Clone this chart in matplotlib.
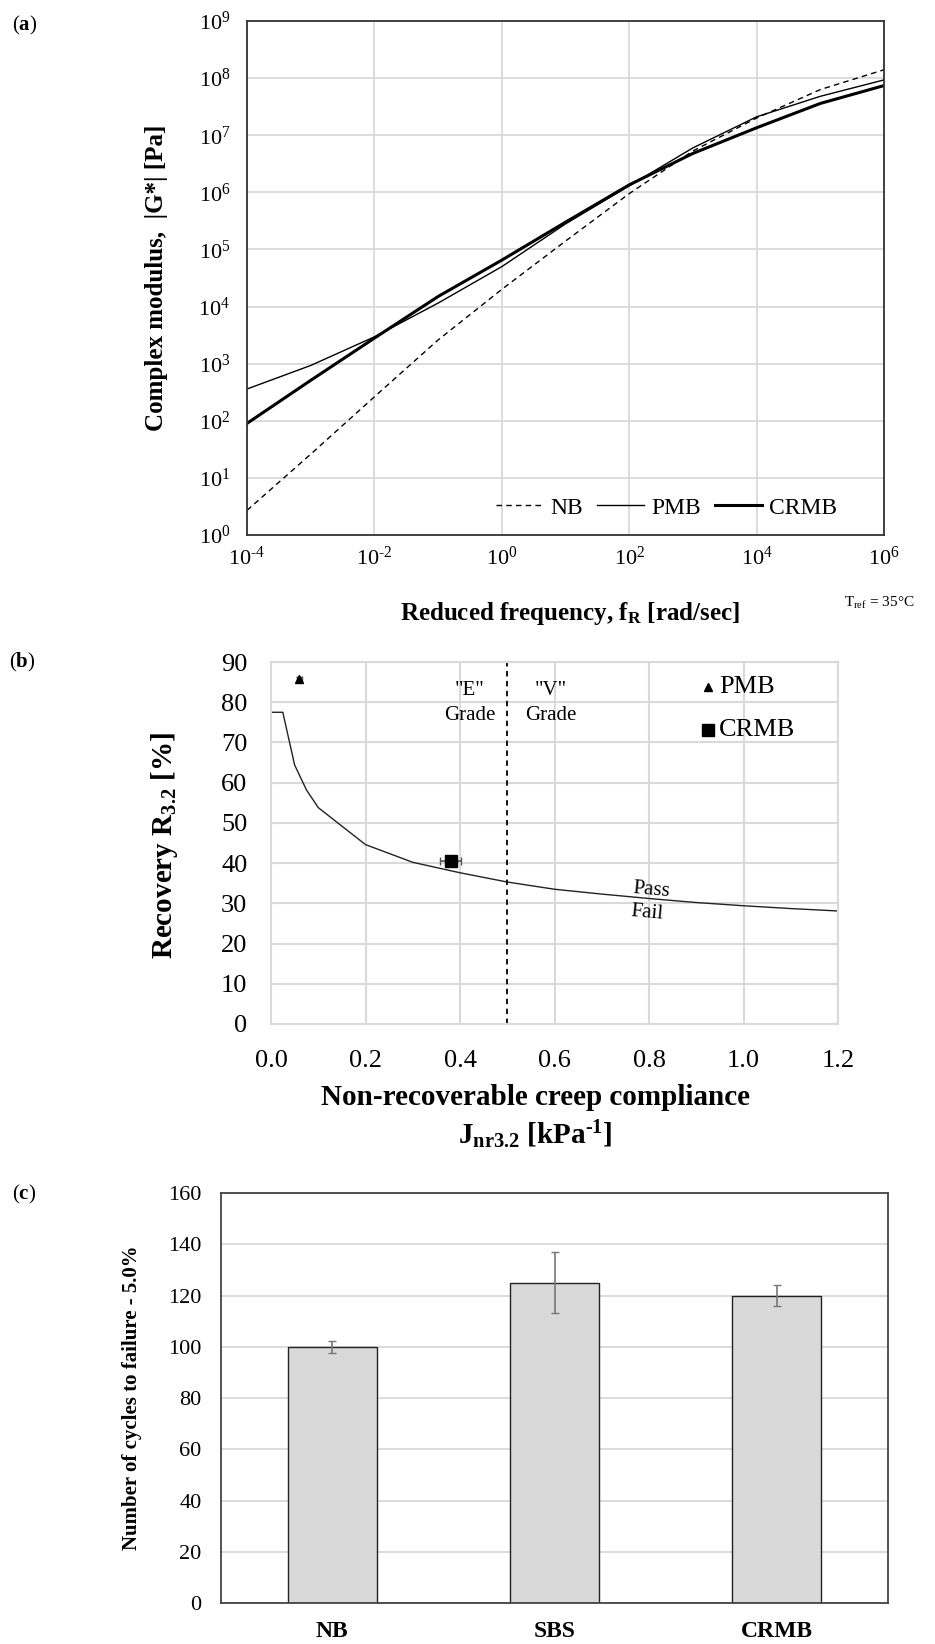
import numpy as np
import matplotlib
matplotlib.use('Agg')
import matplotlib.pyplot as plt

plt.rcParams['font.family'] = ['Liberation Serif', 'DejaVu Serif']
plt.rcParams['mathtext.fontset'] = 'custom'
plt.rcParams['mathtext.rm'] = 'Liberation Serif'
plt.rcParams['mathtext.it'] = 'Liberation Serif:italic'
plt.rcParams['mathtext.bf'] = 'Liberation Serif:bold'

# (a) master curves, Tref = 35 C
freq = [1e-4, 1e-3, 1e-2, 1e-1, 1e0, 1e1, 1e2, 1e3, 1e4, 1e5, 1e6]
g_nb = [2.7, 26, 263, 2.6e3, 2.0e4, 1.4e5, 9.5e5, 5.3e6, 2.0e7, 6.3e7, 1.4e8]
g_pmb = [360, 930, 2.95e3, 1.15e4, 5.0e4, 2.8e5, 1.3e6, 6.0e6, 2.1e7, 4.8e7, 9.3e7]
g_crmb = [90, 510, 2.8e3, 1.5e4, 6.5e4, 3.0e5, 1.35e6, 4.8e6, 1.35e7, 3.6e7, 7.4e7]

# (b) MSCR
jnr_curve = [0, 0.025, 0.05, 0.075, 0.1, 0.2, 0.3, 0.4, 0.5, 0.6, 0.7, 0.8, 0.9, 1.0, 1.1, 1.2]
r_curve = [77.5, 77.5, 64.4, 58.2, 53.8, 44.6, 40.2, 37.6, 35.3, 33.5, 32.3, 31.2, 30.2, 29.4, 28.7, 28.1]
pmb_jnr, pmb_r, pmb_xerr, pmb_yerr = 0.06, 85.7, 0.006, 0.6
crmb_jnr, crmb_r, crmb_xerr, crmb_yerr = 0.38, 40.5, 0.022, 0.8

# (c) LAS fatigue
bins = ['NB', 'SBS', 'CRMB']
cycles = [100, 125, 120]
cycles_err = [2.3, 12, 4.1]

W, H = 935, 1644
fig = plt.figure(figsize=(W / 100, H / 100), dpi=100)

def fx(px):
    return px / W

def fy(py):
    return 1 - py / H

grid_c = '#d9d9d9'

# ---------------- (a)
ax = fig.add_axes([fx(247), fy(535), fx(884) - fx(247), fy(21) - fy(535)])
ax.plot(freq, g_nb, color='black', lw=1.0, ls=(0, (4, 3)), label='NB')
ax.plot(freq, g_pmb, color='black', lw=1.0, label='PMB')
ax.plot(freq, g_crmb, color='black', lw=2.2, label='CRMB')
ax.set_xscale('log')
ax.set_yscale('log')
ax.set_xlim(1e-4, 1e6)
ax.set_ylim(1e0, 1e9)
ax.set_xticks([10.0 ** k for k in range(-4, 7, 2)])
ax.set_xticklabels([r'$10^{\text{%d}}$' % k for k in range(-4, 7, 2)])
ax.set_yticks([10.0 ** k for k in range(0, 10)])
ax.set_yticklabels([r'$10^{%d}$' % k for k in range(0, 10)])
ax.minorticks_off()
ax.grid(True, color=grid_c, lw=1.3)
ax.set_axisbelow(True)
ax.tick_params(length=0, labelsize=16)
ax.tick_params(axis='y', pad=12)
ax.tick_params(axis='x', pad=8)
for s in ax.spines.values():
    s.set_color('#333333')
    s.set_linewidth(1.3)
ax.set_ylabel('Complex modulus,  |G*| [Pa]', fontsize=18, fontweight='bold')
ax.yaxis.set_label_coords(-0.124, 0.5)
ax.set_xlabel(r'Reduced frequency, f$_{\mathbf{R}}$ [rad/sec]', fontsize=18, fontweight='bold')
ax.xaxis.set_label_coords(0.507, -0.126)
ax.legend(loc='center right', bbox_to_anchor=(0.96, 0.053), ncol=3, frameon=False,
          fontsize=17, handlelength=2.0, columnspacing=0.6, handletextpad=0.3)
fig.text(fx(844), fy(603), r'T$_{\mathrm{ref}}$ = 35°C', fontsize=11, va='center', ha='left')
fig.text(fx(12), fy(25), r'($\mathbf{a}$)', fontsize=15, va='center', ha='left')

# ---------------- (b)
ax = fig.add_axes([fx(271), fy(1024), fx(838) - fx(271), fy(662) - fy(1024)])
ax.plot(jnr_curve, r_curve, color='#222222', lw=1.0)
ax.axvline(0.5, color='black', lw=1.3, ls=(0, (3, 2.5)))
ax.errorbar(pmb_jnr, pmb_r, xerr=pmb_xerr, yerr=pmb_yerr, fmt='^', color='black',
            ms=6, ecolor='#555555', capsize=2, elinewidth=1)
ax.errorbar(crmb_jnr, crmb_r, xerr=crmb_xerr, yerr=crmb_yerr, fmt='s', color='black',
            ms=9, ecolor='#555555', capsize=3, elinewidth=1.2)
ax.set_xlim(0, 1.2)
ax.set_ylim(0, 90)
ax.set_xticks(np.arange(0, 1.21, 0.2))
ax.set_xticklabels(['%.1f' % v for v in np.arange(0, 1.21, 0.2)])
ax.set_yticks(range(0, 91, 10))
ax.grid(True, color=grid_c, lw=1.5)
ax.set_axisbelow(True)
ax.tick_params(length=0, labelsize=19)
ax.tick_params(axis='y', pad=17)
ax.tick_params(axis='x', pad=19)
for s in ax.spines.values():
    s.set_color(grid_c)
    s.set_linewidth(1.5)
ax.set_ylabel(r'Recovery R$_{\mathbf{3.2}}$ [%]', fontsize=21, fontweight='bold')
ax.yaxis.set_label_coords(-0.16, 0.494)
ax.text(0.466, -0.2017, 'Non-recoverable creep compliance', transform=ax.transAxes,
        fontsize=21, fontweight='bold', ha='center', va='center')
ax.text(0.466, -0.3066, r'J$_{\mathbf{nr3.2}}$ [kPa$^{\mathbf{\text{-}1}}$]', transform=ax.transAxes,
        fontsize=21, fontweight='bold', ha='center', va='center')
ax.text(0.421, 83, '"E"', fontsize=15, ha='center', va='center')
ax.text(0.421, 76.8, 'Grade', fontsize=15, ha='center', va='center')
ax.text(0.593, 83, '"V"', fontsize=15, ha='center', va='center')
ax.text(0.593, 76.8, 'Grade', fontsize=15, ha='center', va='center')
ax.text(0.805, 33.3, 'Pass', fontsize=15, ha='center', va='center', rotation=-5)
ax.text(0.796, 27.6, 'Fail', fontsize=15, ha='center', va='center', rotation=-5)
ax.plot([0.925], [83.8], marker='^', color='black', ms=6, ls='none')
ax.text(0.948, 83.8, 'PMB', fontsize=19, ha='left', va='center')
ax.plot([0.925], [73.1], marker='s', color='black', ms=9, ls='none')
ax.text(0.948, 73.1, 'CRMB', fontsize=19, ha='left', va='center')
fig.text(fx(9), fy(662), r'($\mathbf{b}$)', fontsize=15, va='center', ha='left')

# ---------------- (c)
ax = fig.add_axes([fx(221), fy(1603), fx(888) - fx(221), fy(1193) - fy(1603)])
xpos = np.arange(len(bins))
ax.bar(xpos, cycles, width=0.4, color='#d9d9d9', edgecolor='#222222', lw=1.0, zorder=2)
ax.errorbar(xpos, cycles, yerr=cycles_err, fmt='none', ecolor='#777777', capsize=3,
            elinewidth=1.2, zorder=3)
ax.set_xlim(-0.5, 2.5)
ax.set_ylim(0, 160)
ax.set_yticks(range(0, 161, 20))
ax.set_xticks(xpos)
ax.set_xticklabels(bins, fontweight='bold', fontsize=17)
ax.yaxis.grid(True, color=grid_c, lw=1.3)
ax.set_axisbelow(True)
ax.tick_params(length=0)
ax.tick_params(axis='y', labelsize=16, pad=14)
ax.tick_params(axis='x', pad=13)
for s in ax.spines.values():
    s.set_color('#444444')
    s.set_linewidth(1.3)
ax.set_ylabel('Number of cycles to failure - 5.0%', fontsize=15, fontweight='bold')
ax.yaxis.set_label_coords(-0.118, 0.5)
fig.text(fx(12), fy(1194), r'($\mathbf{c}$)', fontsize=15, va='center', ha='left')

fig.savefig('out.png', dpi=100)
